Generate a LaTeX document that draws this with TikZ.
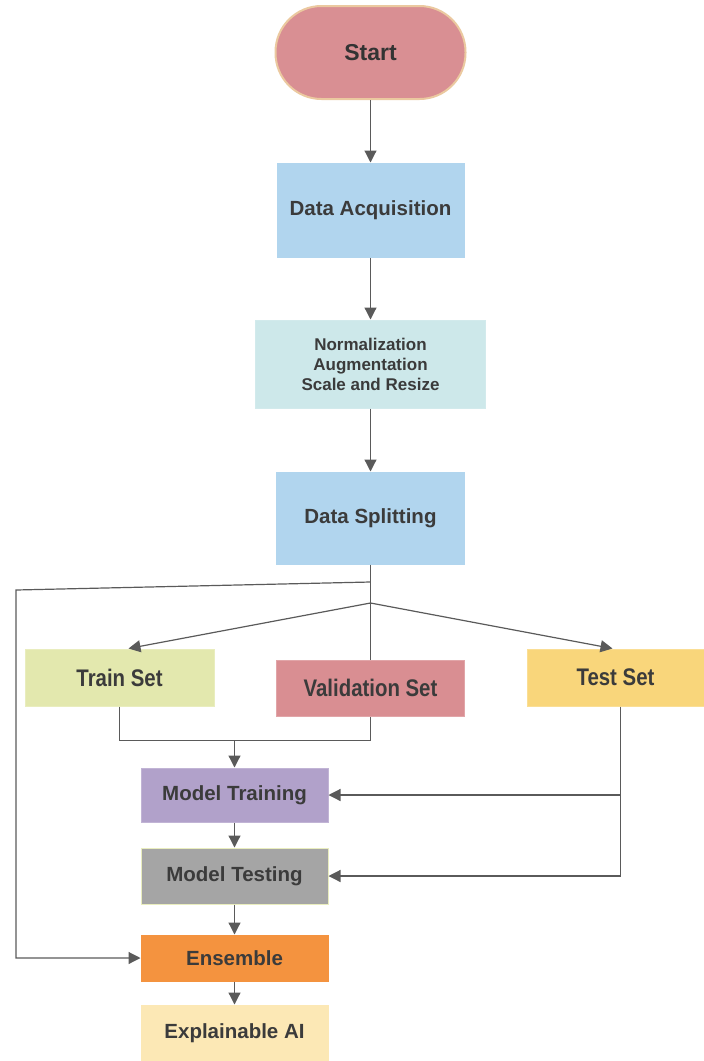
\documentclass[tikz,border=0pt]{standalone}
\usepackage{fontspec}
\setmainfont{Liberation Sans}
\newfontfamily\narrowfont{Liberation Sans}[FakeStretch=0.85]
\usetikzlibrary{arrows.meta,calc}
\definecolor{startc}{HTML}{D98F93}
\definecolor{startb}{HTML}{EBC9A0}
\definecolor{bluec}{HTML}{B1D5EE}
\definecolor{normc}{HTML}{CDE8EA}
\definecolor{trainc}{HTML}{E3E8AE}
\definecolor{valc}{HTML}{D98E92}
\definecolor{testc}{HTML}{F9D67B}
\definecolor{mtc}{HTML}{B1A1CA}
\definecolor{mtestc}{HTML}{A5A5A5}
\definecolor{ensc}{HTML}{F4933F}
\definecolor{xaic}{HTML}{FCE8B5}
\definecolor{txt}{HTML}{3B3B3B}
\definecolor{linec}{HTML}{5A5A5A}
\tikzset{
  box/.style={rectangle, inner sep=0pt, align=center, text=txt, font=\bfseries\fontsize{20.5}{24}\selectfont, line width=1pt},
  setbox/.style={box, font=\narrowfont\bfseries\fontsize{24}{28}\selectfont},
  line/.style={draw=linec, line width=1.2pt},
  arr/.style={line, -{Triangle[length=12pt,width=12pt]}, color=linec}
}
\begin{document}
\begin{tikzpicture}[x=1pt,y=-1pt]
\useasboundingbox (0,0) rectangle (704,1061);
\node[box, fill=startc, draw=startb, line width=2pt, rounded corners=46pt, minimum width=190pt, minimum height=93pt, font=\bfseries\fontsize{23}{27}\selectfont, text=black!80] (start) at (370.5,52.5) {Start};
\node[box, fill=bluec, draw=bluec, minimum width=187pt, minimum height=94pt] (da) at (370.5,210) {Data Acquisition};
\node[box, fill=normc, draw=normc!90!white, minimum width=230pt, minimum height=88pt, font=\bfseries\fontsize{17}{20}\selectfont] (norm) at (370.5,364) {Normalization\\Augmentation\\Scale and Resize};
\node[box, fill=bluec, draw=bluec, minimum width=188pt, minimum height=92pt] (ds) at (370.5,518) {Data Splitting};
\node[setbox, fill=trainc, draw=trainc!80!white, minimum width=189pt, minimum height=57pt] (train) at (119.5,677.5) {Train Set};
\node[setbox, fill=valc, draw=valc!80!white, minimum width=188pt, minimum height=56pt] (val) at (370.5,688) {Validation Set};
\node[setbox, fill=testc, draw=testc!80!white, minimum width=177pt, minimum height=57pt] (test) at (615.5,677.5) {Test Set};
\node[box, fill=mtc, draw=mtc!80!white, minimum width=187pt, minimum height=54pt] (mt) at (234.5,795) {Model Training};
\node[box, fill=mtestc, draw=trainc!80!white, minimum width=187pt, minimum height=56pt] (mtest) at (234.5,876) {Model Testing};
\node[box, fill=ensc, draw=ensc, minimum width=187pt, minimum height=46pt] (ens) at (234.5,958) {Ensemble};
\node[box, fill=xaic, draw=xaic, minimum width=187pt, minimum height=56pt] (xai) at (234.5,1033) {Explainable AI};
% main flow
\draw[arr] (start) -- (da);
\draw[arr] (da) -- (norm);
\draw[arr] (norm) -- (ds);
% splitting
\coordinate (s1) at (370.5,582);
\coordinate (bl) at (16,590);
\coordinate (s2) at (370.5,603);
\draw[line] (ds.south) -- (val.north);
\draw[arr] (s1) -- (bl) |- (ens.west);
\draw[arr] (s2) -- ($(train.north)+(9,0)$);
\draw[arr] (s2) -- ($(test.north)+(-3,0)$);
% merge train/val
\draw[line] (train.south) -- ++(0,34) -| (val.south);
\coordinate (m) at (234.5,740);
\draw[arr] (m) -- (mt.north);
% test set feeds
\coordinate (tt) at ($(test.south)+(5,0)$);
\draw[arr] (tt) |- (mtest.east);
\draw[arr] (tt |- mt.east) -- (mt.east);
% lower flow
\draw[arr] (mt) -- (mtest);
\draw[arr] (mtest) -- (ens);
\draw[arr] (ens) -- (xai);
\end{tikzpicture}
\end{document}
